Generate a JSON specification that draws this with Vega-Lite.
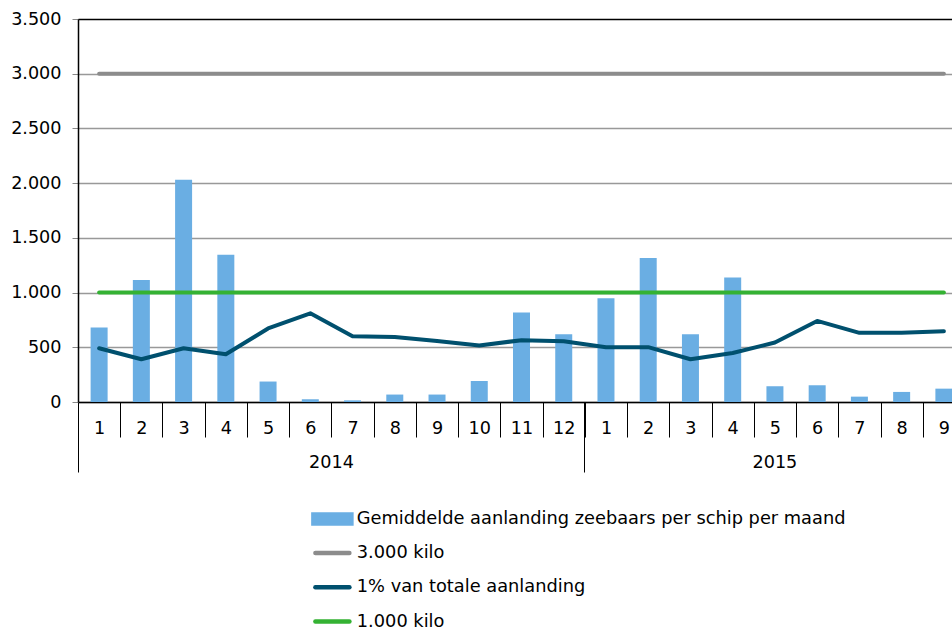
{
  "$schema": "https://vega.github.io/schema/vega-lite/v6.json",
  "width": 887,
  "height": 383,
  "autosize": {"type": "none"},
  "padding": {"left": 78, "top": 19, "right": 0, "bottom": 226},
  "config": {
    "font": "DejaVu Sans",
    "view": {"stroke": "#000000", "strokeWidth": 1},
    "axis": {"labelColor": "#000000", "labelFontSize": 17.6, "labelFont": "DejaVu Sans"},
    "legend": {"labelFont": "DejaVu Sans"}
  },
  "data": {
    "values": [
      {"maand": "2014-1", "serie": "Gemiddelde aanlanding zeebaars per schip per maand", "waarde": 680},
      {"maand": "2014-2", "serie": "Gemiddelde aanlanding zeebaars per schip per maand", "waarde": 1115},
      {"maand": "2014-3", "serie": "Gemiddelde aanlanding zeebaars per schip per maand", "waarde": 2030},
      {"maand": "2014-4", "serie": "Gemiddelde aanlanding zeebaars per schip per maand", "waarde": 1345},
      {"maand": "2014-5", "serie": "Gemiddelde aanlanding zeebaars per schip per maand", "waarde": 187},
      {"maand": "2014-6", "serie": "Gemiddelde aanlanding zeebaars per schip per maand", "waarde": 25},
      {"maand": "2014-7", "serie": "Gemiddelde aanlanding zeebaars per schip per maand", "waarde": 15},
      {"maand": "2014-8", "serie": "Gemiddelde aanlanding zeebaars per schip per maand", "waarde": 68},
      {"maand": "2014-9", "serie": "Gemiddelde aanlanding zeebaars per schip per maand", "waarde": 68},
      {"maand": "2014-10", "serie": "Gemiddelde aanlanding zeebaars per schip per maand", "waarde": 192},
      {"maand": "2014-11", "serie": "Gemiddelde aanlanding zeebaars per schip per maand", "waarde": 818},
      {"maand": "2014-12", "serie": "Gemiddelde aanlanding zeebaars per schip per maand", "waarde": 620},
      {"maand": "2015-1", "serie": "Gemiddelde aanlanding zeebaars per schip per maand", "waarde": 949},
      {"maand": "2015-2", "serie": "Gemiddelde aanlanding zeebaars per schip per maand", "waarde": 1315},
      {"maand": "2015-3", "serie": "Gemiddelde aanlanding zeebaars per schip per maand", "waarde": 620},
      {"maand": "2015-4", "serie": "Gemiddelde aanlanding zeebaars per schip per maand", "waarde": 1138},
      {"maand": "2015-5", "serie": "Gemiddelde aanlanding zeebaars per schip per maand", "waarde": 144},
      {"maand": "2015-6", "serie": "Gemiddelde aanlanding zeebaars per schip per maand", "waarde": 153},
      {"maand": "2015-7", "serie": "Gemiddelde aanlanding zeebaars per schip per maand", "waarde": 49},
      {"maand": "2015-8", "serie": "Gemiddelde aanlanding zeebaars per schip per maand", "waarde": 92},
      {"maand": "2015-9", "serie": "Gemiddelde aanlanding zeebaars per schip per maand", "waarde": 122},
      {"maand": "2014-1", "serie": "3.000 kilo", "waarde": 3000},
      {"maand": "2014-2", "serie": "3.000 kilo", "waarde": 3000},
      {"maand": "2014-3", "serie": "3.000 kilo", "waarde": 3000},
      {"maand": "2014-4", "serie": "3.000 kilo", "waarde": 3000},
      {"maand": "2014-5", "serie": "3.000 kilo", "waarde": 3000},
      {"maand": "2014-6", "serie": "3.000 kilo", "waarde": 3000},
      {"maand": "2014-7", "serie": "3.000 kilo", "waarde": 3000},
      {"maand": "2014-8", "serie": "3.000 kilo", "waarde": 3000},
      {"maand": "2014-9", "serie": "3.000 kilo", "waarde": 3000},
      {"maand": "2014-10", "serie": "3.000 kilo", "waarde": 3000},
      {"maand": "2014-11", "serie": "3.000 kilo", "waarde": 3000},
      {"maand": "2014-12", "serie": "3.000 kilo", "waarde": 3000},
      {"maand": "2015-1", "serie": "3.000 kilo", "waarde": 3000},
      {"maand": "2015-2", "serie": "3.000 kilo", "waarde": 3000},
      {"maand": "2015-3", "serie": "3.000 kilo", "waarde": 3000},
      {"maand": "2015-4", "serie": "3.000 kilo", "waarde": 3000},
      {"maand": "2015-5", "serie": "3.000 kilo", "waarde": 3000},
      {"maand": "2015-6", "serie": "3.000 kilo", "waarde": 3000},
      {"maand": "2015-7", "serie": "3.000 kilo", "waarde": 3000},
      {"maand": "2015-8", "serie": "3.000 kilo", "waarde": 3000},
      {"maand": "2015-9", "serie": "3.000 kilo", "waarde": 3000},
      {"maand": "2014-1", "serie": "1% van totale aanlanding", "waarde": 491},
      {"maand": "2014-2", "serie": "1% van totale aanlanding", "waarde": 391},
      {"maand": "2014-3", "serie": "1% van totale aanlanding", "waarde": 491},
      {"maand": "2014-4", "serie": "1% van totale aanlanding", "waarde": 436},
      {"maand": "2014-5", "serie": "1% van totale aanlanding", "waarde": 672},
      {"maand": "2014-6", "serie": "1% van totale aanlanding", "waarde": 810},
      {"maand": "2014-7", "serie": "1% van totale aanlanding", "waarde": 601},
      {"maand": "2014-8", "serie": "1% van totale aanlanding", "waarde": 595},
      {"maand": "2014-9", "serie": "1% van totale aanlanding", "waarde": 558},
      {"maand": "2014-10", "serie": "1% van totale aanlanding", "waarde": 516},
      {"maand": "2014-11", "serie": "1% van totale aanlanding", "waarde": 565},
      {"maand": "2014-12", "serie": "1% van totale aanlanding", "waarde": 556},
      {"maand": "2015-1", "serie": "1% van totale aanlanding", "waarde": 500},
      {"maand": "2015-2", "serie": "1% van totale aanlanding", "waarde": 501},
      {"maand": "2015-3", "serie": "1% van totale aanlanding", "waarde": 391},
      {"maand": "2015-4", "serie": "1% van totale aanlanding", "waarde": 448},
      {"maand": "2015-5", "serie": "1% van totale aanlanding", "waarde": 544},
      {"maand": "2015-6", "serie": "1% van totale aanlanding", "waarde": 741},
      {"maand": "2015-7", "serie": "1% van totale aanlanding", "waarde": 632},
      {"maand": "2015-8", "serie": "1% van totale aanlanding", "waarde": 632},
      {"maand": "2015-9", "serie": "1% van totale aanlanding", "waarde": 647},
      {"maand": "2014-1", "serie": "1.000 kilo", "waarde": 1000},
      {"maand": "2014-2", "serie": "1.000 kilo", "waarde": 1000},
      {"maand": "2014-3", "serie": "1.000 kilo", "waarde": 1000},
      {"maand": "2014-4", "serie": "1.000 kilo", "waarde": 1000},
      {"maand": "2014-5", "serie": "1.000 kilo", "waarde": 1000},
      {"maand": "2014-6", "serie": "1.000 kilo", "waarde": 1000},
      {"maand": "2014-7", "serie": "1.000 kilo", "waarde": 1000},
      {"maand": "2014-8", "serie": "1.000 kilo", "waarde": 1000},
      {"maand": "2014-9", "serie": "1.000 kilo", "waarde": 1000},
      {"maand": "2014-10", "serie": "1.000 kilo", "waarde": 1000},
      {"maand": "2014-11", "serie": "1.000 kilo", "waarde": 1000},
      {"maand": "2014-12", "serie": "1.000 kilo", "waarde": 1000},
      {"maand": "2015-1", "serie": "1.000 kilo", "waarde": 1000},
      {"maand": "2015-2", "serie": "1.000 kilo", "waarde": 1000},
      {"maand": "2015-3", "serie": "1.000 kilo", "waarde": 1000},
      {"maand": "2015-4", "serie": "1.000 kilo", "waarde": 1000},
      {"maand": "2015-5", "serie": "1.000 kilo", "waarde": 1000},
      {"maand": "2015-6", "serie": "1.000 kilo", "waarde": 1000},
      {"maand": "2015-7", "serie": "1.000 kilo", "waarde": 1000},
      {"maand": "2015-8", "serie": "1.000 kilo", "waarde": 1000},
      {"maand": "2015-9", "serie": "1.000 kilo", "waarde": 1000}
    ]
  },
  "encoding": {
    "y": {
      "field": "waarde", "type": "quantitative",
      "scale": {"domain": [0, 3500], "nice": false},
      "axis": {
        "title": null, "values": [0, 500, 1000, 1500, 2000, 2500, 3000, 3500],
        "labelExpr": "replace(format(datum.value, ','), ',', '.')",
        "grid": true, "gridColor": {"condition": {"test": "datum.value === 3500", "value": "#000000"}, "value": "#999999"}, "gridWidth": 1.3,
        "domainColor": "#000000", "domainWidth": 1.5, "tickColor": "#888888", "tickSize": 6,
        "labelPadding": 11, "labelFontSize": 17.6
      }
    },
    "color": {
      "field": "serie", "type": "nominal",
      "scale": {"domain": ["Gemiddelde aanlanding zeebaars per schip per maand", "3.000 kilo", "1% van totale aanlanding", "1.000 kilo"],
                "range": ["#6aaee3", "#8c8c8c", "#00506e", "#34b233"]},
      "legend": {
        "orient": "none", "legendX": 245.5, "legendY": 491, "direction": "vertical", "title": null,
        "padding": 0, "symbolSize": 100, "symbolOffset": 0, "gridAlign": "all",
        "labelFontSize": 17.8, "labelColor": "#000000", "labelLimit": 0, "rowPadding": 10.2, "labelOffset": 15.5,
        "encode": {"symbols": {"update": {
          "shape": {"signal": "datum.value === 'Gemiddelde aanlanding zeebaars per schip per maand' ? 'M-3.8,-0.9H3.8V0.9H-3.8Z' : 'M-3.4,0H3.4'"},
          "fill": {"signal": "datum.value === 'Gemiddelde aanlanding zeebaars per schip per maand' ? '#6aaee3' : 'transparent'"},
          "stroke": {"signal": "datum.value === 'Gemiddelde aanlanding zeebaars per schip per maand' ? 'transparent' : scale('color', datum.value)"},
          "strokeWidth": {"value": 4.5},
          "strokeCap": {"value": "round"},
          "opacity": {"value": 1}
        }}}
      }
    }
  },
  "layer": [
    {
      "transform": [{"filter": "datum.serie === 'Gemiddelde aanlanding zeebaars per schip per maand'"}],
      "mark": {"type": "bar", "width": 17},
      "encoding": {
        "x": {
          "field": "maand", "type": "nominal",
          "scale": {"type": "band", "paddingInner": 0, "paddingOuter": 0,
            "domain": ["2014-1","2014-2","2014-3","2014-4","2014-5","2014-6","2014-7","2014-8","2014-9","2014-10","2014-11","2014-12","2015-1","2015-2","2015-3","2015-4","2015-5","2015-6","2015-7","2015-8","2015-9"]},
          "axis": {
            "title": null, "orient": "bottom", "tickBand": "extent", "tickSize": 35, "tickColor": "#000000", "tickWidth": 1,
            "domainColor": "#000000", "domainWidth": 1.5, "grid": false,
            "labelExpr": "split(datum.value, '-')[1]", "labelAngle": 0, "labelBaseline": "middle",
            "labelPadding": -9, "labelFontSize": 17.6, "labelOverlap": false
          }
        }
      }
    },
    {
      "transform": [{"filter": "datum.serie !== 'Gemiddelde aanlanding zeebaars per schip per maand'"}],
      "mark": {"type": "line", "strokeWidth": 4, "strokeCap": "round", "strokeJoin": "round"},
      "encoding": {
        "x": {
          "field": "maand", "type": "nominal",
          "scale": {"type": "band", "paddingInner": 0, "paddingOuter": 0,
            "domain": ["2014-1","2014-2","2014-3","2014-4","2014-5","2014-6","2014-7","2014-8","2014-9","2014-10","2014-11","2014-12","2015-1","2015-2","2015-3","2015-4","2015-5","2015-6","2015-7","2015-8","2015-9"]},
          "axis": {
            "title": null, "orient": "bottom", "values": ["2014-1", "2014-7", "2015-1", "2015-5"],
            "bandPosition": 0, "tickSize": 70, "tickColor": "#000000", "tickWidth": 1,
            "tickOpacity": {"condition": {"test": "datum.value === '2014-7' || datum.value === '2015-5'", "value": 0}, "value": 1},
            "labelExpr": "datum.value === '2014-7' ? '2014' : datum.value === '2015-5' ? '2015' : ''",
            "labelOffset": {"condition": {"test": "datum.value === '2014-7'", "value": -21.1}, "value": 0},
            "labelBaseline": "middle", "labelPadding": -10, "labelAngle": 0, "labelFontSize": 17.6,
            "domain": false, "grid": false, "labelOverlap": false
          }
        }
      }
    }
  ],
  "resolve": {"axis": {"x": "independent"}}
}
